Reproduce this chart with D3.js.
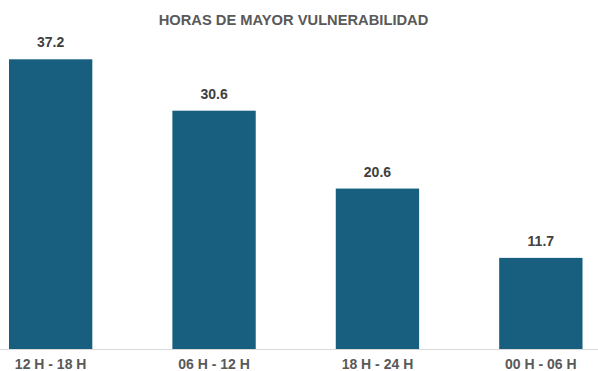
<!DOCTYPE html>
<html>
<head>
<meta charset="utf-8">
<script src="https://cdn.jsdelivr.net/npm/d3@7"></script>
<style>
  body { margin: 0; background: #fff; }
  svg { display: block; font-family: "Liberation Sans", Arial, sans-serif; }
</style>
</head>
<body>
<svg id="chart" width="598" height="371"></svg>
<script>
// datos del grafico
var franjas = ["12 H - 18 H", "06 H - 12 H", "18 H - 24 H", "00 H - 06 H"];
var valores = [37.2, 30.6, 20.6, 11.7];
var titulo = "HORAS DE MAYOR VULNERABILIDAD";

var svg = d3.select("#chart");
var baseY = 349;

var x = d3.scaleBand()
    .domain(franjas)
    .range([0, 591.5])
    .paddingInner(0.49)
    .paddingOuter(0.055);

var y = d3.scaleLinear()
    .domain([0, 37.2])
    .range([baseY, 59.3]);

svg.append("text")
    .attr("x", 293.5)
    .attr("y", 25)
    .attr("text-anchor", "middle")
    .attr("font-size", 14.7)
    .attr("font-weight", "bold")
    .attr("fill", "#595959")
    .text(titulo);

svg.selectAll("rect.barra")
    .data(valores)
    .enter().append("rect")
    .attr("class", "barra")
    .attr("x", function(d, i) { return x(franjas[i]); })
    .attr("y", function(d) { return y(d); })
    .attr("width", x.bandwidth())
    .attr("height", function(d) { return baseY - y(d); })
    .attr("fill", "#175e7f");

svg.selectAll("text.valor")
    .data(valores)
    .enter().append("text")
    .attr("class", "valor")
    .attr("x", function(d, i) { return x(franjas[i]) + x.bandwidth() / 2; })
    .attr("y", function(d) { return y(d) - 12; })
    .attr("text-anchor", "middle")
    .attr("font-size", 14)
    .attr("font-weight", "bold")
    .attr("fill", "#404040")
    .text(function(d) { return d.toFixed(1); });

// eje x
var eje = svg.append("g")
    .attr("transform", "translate(0," + baseY + ")")
    .call(d3.axisBottom(x).tickSize(0).tickPadding(8));

eje.select(".domain").remove();
eje.append("line")
    .attr("x1", 0).attr("x2", 598)
    .attr("y1", 0.5).attr("y2", 0.5)
    .attr("stroke", "#d9d9d9");

eje.selectAll(".tick text")
    .attr("font-size", 14)
    .attr("font-weight", "bold")
    .attr("fill", "#595959")
    .attr("font-family", "Liberation Sans, Arial, sans-serif")
    .attr("dy", "0.85em");
</script>
</body>
</html>
